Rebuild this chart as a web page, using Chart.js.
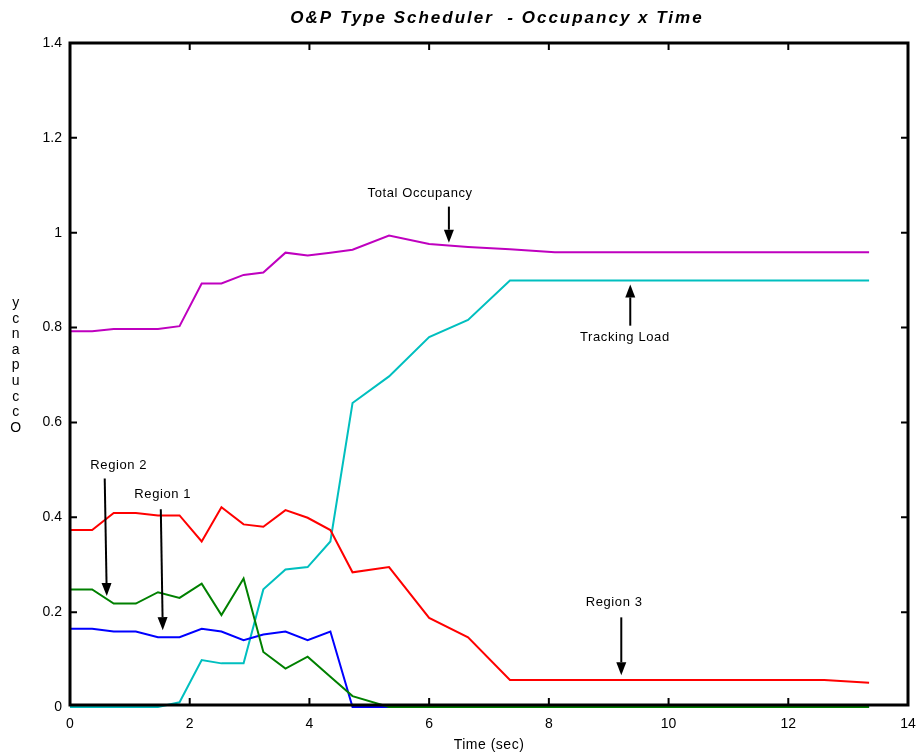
<!DOCTYPE html>
<html>
<head>
<meta charset="utf-8">
<script src="https://cdn.jsdelivr.net/npm/chart.js@4.4.1/dist/chart.umd.min.js"></script>
<style>
  html, body { margin: 0; padding: 0; background: #fff; }
  #wrap { width: 919px; height: 755px; }
</style>
</head>
<body>
<div id="wrap"><canvas id="occChart"></canvas></div>
<script>
// time stamps (sec) shared by every curve
const timeSec = [0, 0.37, 0.73, 1.1, 1.47, 1.83, 2.2, 2.53, 2.9, 3.23, 3.6, 3.97, 4.35, 4.72, 5.33, 6.0, 6.65, 7.35, 8.1, 12.6, 13.35];

const totalOccupancy = [0.792, 0.792, 0.797, 0.797, 0.797, 0.803, 0.893, 0.893, 0.911, 0.916, 0.958, 0.952, 0.958, 0.964, 0.994, 0.976, 0.970, 0.965, 0.959, 0.959, 0.959];
const trackingLoad   = [0, 0, 0, 0, 0, 0.010, 0.099, 0.092, 0.092, 0.248, 0.290, 0.295, 0.349, 0.641, 0.697, 0.780, 0.816, 0.899, 0.899, 0.899, 0.899];
const region1 = [0.165, 0.165, 0.159, 0.159, 0.147, 0.147, 0.165, 0.159, 0.141, 0.153, 0.159, 0.141, 0.159, 0, 0, 0, 0, 0, 0, 0, 0];
const region2 = [0.248, 0.248, 0.218, 0.218, 0.242, 0.230, 0.260, 0.194, 0.271, 0.116, 0.081, 0.106, 0.064, 0.023, 0, 0, 0, 0, 0, 0, 0];
const region3 = [0.373, 0.373, 0.409, 0.409, 0.404, 0.404, 0.349, 0.421, 0.385, 0.380, 0.415, 0.399, 0.373, 0.284, 0.295, 0.188, 0.147, 0.057, 0.057, 0.057, 0.051];

const xTicks = [0, 2, 4, 6, 8, 10, 12, 14];
const yTicks = [0, 0.2, 0.4, 0.6, 0.8, 1, 1.2, 1.4];

// text labels with arrows, in data units: [text, textX, textY, arrowX1, arrowY1, arrowX2, arrowY2]
const notes = [
  ['Total Occupancy', 5.85, 1.082, 6.33, 1.055, 6.33, 0.979],
  ['Tracking Load', 9.27, 0.779, 9.36, 0.804, 9.36, 0.891],
  ['Region 3', 9.09, 0.221, 9.21, 0.189, 9.21, 0.067],
  ['Region 2', 0.815, 0.509, 0.58, 0.482, 0.614, 0.234],
  ['Region 1', 1.55, 0.448, 1.517, 0.417, 1.55, 0.162]
];

function pairs(ys) {
  return timeSec.map((t, i) => ({ x: t, y: ys[i] }));
}

function arrow(ctx, x1, y1, x2, y2) {
  const ang = Math.atan2(y2 - y1, x2 - x1);
  const head = 13, half = 5;
  const bx = x2 - head * Math.cos(ang), by = y2 - head * Math.sin(ang);
  ctx.beginPath();
  ctx.moveTo(x1, y1);
  ctx.lineTo(bx, by);
  ctx.stroke();
  ctx.beginPath();
  ctx.moveTo(x2, y2);
  ctx.lineTo(bx + half * Math.sin(ang), by - half * Math.cos(ang));
  ctx.lineTo(bx - half * Math.sin(ang), by + half * Math.cos(ang));
  ctx.closePath();
  ctx.fill();
}

const frame = {
  id: 'frame',
  afterDatasetsDraw(chart) {
    const ctx = chart.ctx;
    const a = chart.chartArea;
    const xs = chart.scales.x, ys = chart.scales.y;
    ctx.save();
    ctx.strokeStyle = '#000';
    ctx.lineWidth = 3;
    ctx.strokeRect(a.left, a.top, a.right - a.left, a.bottom - 2 - a.top);
    ctx.lineWidth = 2;
    ctx.beginPath();
    xTicks.slice(1, -1).forEach(v => {
      const px = xs.getPixelForValue(v);
      ctx.moveTo(px, a.bottom - 2); ctx.lineTo(px, a.bottom - 9);
      ctx.moveTo(px, a.top); ctx.lineTo(px, a.top + 7);
    });
    yTicks.slice(1, -1).forEach(v => {
      const py = ys.getPixelForValue(v);
      ctx.moveTo(a.left, py); ctx.lineTo(a.left + 7, py);
      ctx.moveTo(a.right, py); ctx.lineTo(a.right - 7, py);
    });
    ctx.stroke();

    // annotations
    ctx.fillStyle = '#000';
    ctx.font = '13px "Liberation Sans", Arial, sans-serif';
    ctx.letterSpacing = '0.6px';
    ctx.textAlign = 'center';
    ctx.textBaseline = 'middle';
    notes.forEach(n => {
      ctx.fillText(n[0], xs.getPixelForValue(n[1]), ys.getPixelForValue(n[2]));
      ctx.lineWidth = 2;
      arrow(ctx, xs.getPixelForValue(n[3]), ys.getPixelForValue(n[4]),
                 xs.getPixelForValue(n[5]), ys.getPixelForValue(n[6]));
    });

    // titles
    ctx.font = 'italic bold 17px "Liberation Sans", Arial, sans-serif';
    ctx.letterSpacing = '2px';
    ctx.fillText('O&P Type Scheduler  - Occupancy x Time', 497, 18);
    ctx.font = '14px "Liberation Sans", Arial, sans-serif';
    ctx.letterSpacing = '0.5px';
    ctx.fillText('Time (sec)', 489, 745);
    const word = 'Occupancy';
    const mid = (a.top + a.bottom) / 2 - 10;
    for (let i = 0; i < word.length; i++) {
      ctx.fillText(word[i], 16, mid + 63 - i * 15.6);
    }
    ctx.restore();
  }
};

const lineStyle = { borderWidth: 2, pointRadius: 0, tension: 0, fill: false, clip: false };

new Chart(document.getElementById('occChart'), {
  type: 'line',
  data: {
    datasets: [
      Object.assign({ label: 'Region 2', data: pairs(region2), borderColor: '#008000' }, lineStyle),
      Object.assign({ label: 'Region 1', data: pairs(region1), borderColor: '#0000ff' }, lineStyle),
      Object.assign({ label: 'Region 3', data: pairs(region3), borderColor: '#ff0000' }, lineStyle),
      Object.assign({ label: 'Tracking Load', data: pairs(trackingLoad), borderColor: '#00bfbf' }, lineStyle),
      Object.assign({ label: 'Total Occupancy', data: pairs(totalOccupancy), borderColor: '#bf00bf' }, lineStyle)
    ]
  },
  options: {
    responsive: true,
    maintainAspectRatio: false,
    animation: false,
    layout: { padding: { top: 43, right: 11, left: 0, bottom: 0 } },
    plugins: { legend: { display: false }, tooltip: { enabled: false }, title: { display: false } },
    scales: {
      x: {
        type: 'linear', min: 0, max: 14,
        afterBuildTicks: s => { s.ticks = xTicks.map(v => ({ value: v })); },
        afterFit: s => { s.height = 48; s.paddingLeft = 0; s.paddingRight = 0; },
        grid: { display: false, drawTicks: false },
        border: { display: false },
        ticks: { color: '#000', padding: 9, font: { size: 14, family: '"Liberation Sans", Arial, sans-serif' } }
      },
      y: {
        min: 0, max: 1.4,
        afterBuildTicks: s => { s.ticks = yTicks.map(v => ({ value: v })); },
        afterFit: s => { s.width = 70; s.paddingTop = 0; s.paddingBottom = 0; },
        grid: { display: false, drawTicks: false },
        border: { display: false },
        ticks: {
          color: '#000', padding: 8,
          font: { size: 14, family: '"Liberation Sans", Arial, sans-serif' },
          callback: v => String(+v.toFixed(1))
        }
      }
    }
  },
  plugins: [frame]
});
</script>
</body>
</html>
